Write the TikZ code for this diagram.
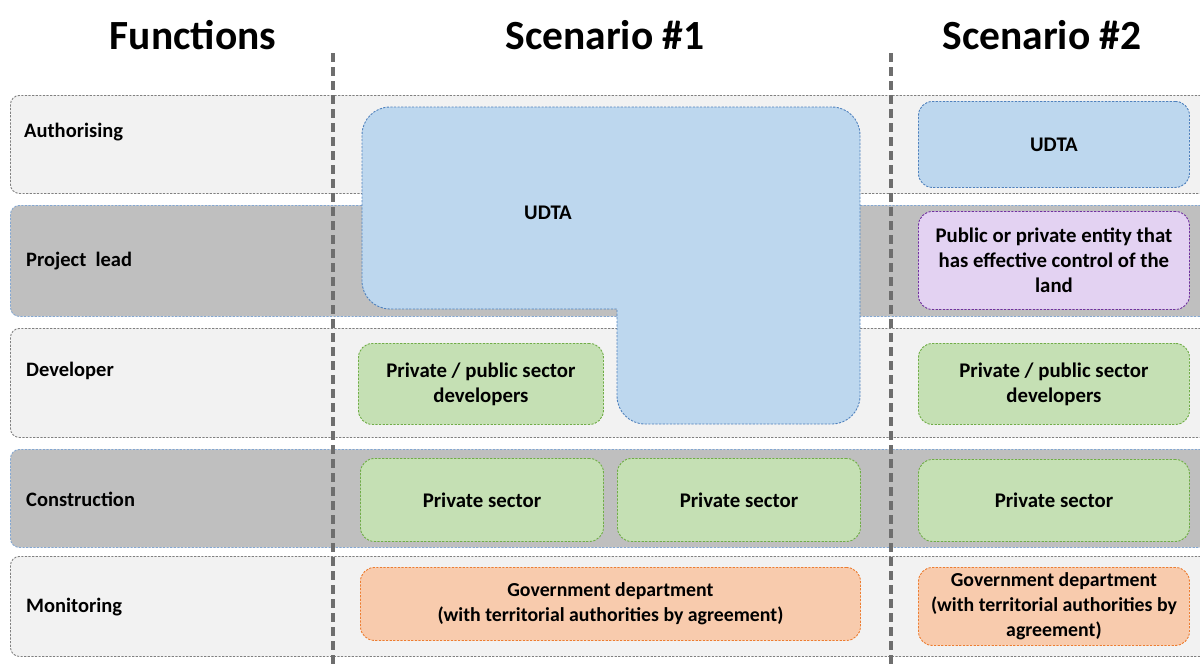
\documentclass[tikz,border=0pt]{standalone}
\usepackage{fontspec}
\setmainfont{Carlito}
\usepackage{tikz}
\usetikzlibrary{positioning}

\definecolor{bandlight}{HTML}{F2F2F2}
\definecolor{banddark}{HTML}{BFBFBF}
\definecolor{bandline}{HTML}{808080}
\definecolor{udtafill}{HTML}{BDD7EE}
\definecolor{udtaline}{HTML}{4F81BD}
\definecolor{devfill}{HTML}{C5E0B4}
\definecolor{devline}{HTML}{70AD47}
\definecolor{govfill}{HTML}{F8CBAD}
\definecolor{govline}{HTML}{ED7D31}
\definecolor{landfill}{HTML}{E3D2F2}
\definecolor{landline}{HTML}{7030A0}
\definecolor{splitline}{HTML}{6E6E6E}

\tikzset{
  fine dash/.style={dash pattern=on 2.2pt off 1.4pt, line width=0.9pt},
  band/.style={draw, fine dash, rounded corners=9pt, anchor=north west,
    minimum width=1210pt, minimum height=#1, inner sep=0pt},
  lightband/.style={band=#1, fill=bandlight, draw=bandline},
  darkband/.style={band=#1, fill=banddark, draw=udtaline!70},
  rowlabel/.style={anchor=west, font=\bfseries\fontsize{20.5}{24}\selectfont, inner sep=0pt},
  title/.style={font=\bfseries\fontsize{41.5}{49}\selectfont, inner sep=0pt},
  box/.style={draw, fine dash, rounded corners=14pt, anchor=north west, align=center,
    inner sep=0pt, font=\bfseries\fontsize{20.8}{25}\selectfont},
  udtabox/.style={box, fill=udtafill, draw=udtaline},
  devbox/.style={box, fill=devfill, draw=devline},
  govbox/.style={box, fill=govfill, draw=govline, font=\bfseries\fontsize{19.8}{25}\selectfont},
  landbox/.style={box, fill=landfill, draw=landline},
  split/.style={draw=splitline, line width=3.2pt, dash pattern=on 9pt off 5pt}
}

\begin{document}
\begin{tikzpicture}[x=1pt, y=-1pt]
  \useasboundingbox (0,0) rectangle (1200,664);

  % titles
  \node[title] (functions) at (193,35) {Functions};
  \node[title] (scenone)   at (605,35) {Scenario \#1};
  \node[title] (scentwo)   at (1042,35) {Scenario \#2};

  % function rows
  \node[lightband=98pt]  (authrow)  at (10,95)  {};
  \node[darkband=111pt]  (leadrow)  at (10,205) {};
  \node[lightband=109pt] (devrow)   at (10,328) {};
  \node[darkband=98pt]   (consrow)  at (10,449) {};
  \node[lightband=100pt] (monirow)  at (10,556) {};

  \node[rowlabel] (authlabel) at (24,132) {Authorising};
  \node[rowlabel] (leadlabel) at (26,261) {Project\ \ lead};
  \node[rowlabel] (devlabel)  at (26,371) {Developer};
  \node[rowlabel] (conslabel) at (26,499) {Construction};
  \node[rowlabel] (monilabel) at (26,607) {Monitoring};

  % column separators
  \coordinate (splitonetop) at (333,53);
  \coordinate (splitonebot) at (333,664);
  \coordinate (splittwotop) at (891,53);
  \coordinate (splittwobot) at (891,664);
  \draw[split] (splitonetop) -- (splitonebot);
  \draw[split] (splittwotop) -- (splittwobot);

  % scenario 1
  \draw[fine dash, fill=udtafill, draw=udtaline, rounded corners=28pt]
    (600,107) -- (860,107) -- (860,424) -- (617,424)
    [sharp corners] -- (617,309) [rounded corners=28pt] -- (362,309) -- (362,107) -- cycle;
  \node[font=\bfseries\fontsize{20.8}{25}\selectfont] (udtaone) at (548,213) {UDTA};

  \node[devbox, minimum width=245pt, minimum height=81pt] (devone) at (358,343)
    {Private / public sector\\developers};
  \node[devbox, minimum width=243pt, minimum height=83pt] (consone) at (360,458)
    {Private sector};
  \node[devbox, minimum width=243pt, minimum height=83pt] (constwo) at (617,458)
    {Private sector};
  \node[govbox, minimum width=500pt, minimum height=73pt] (govone) at (360,567)
    {Government department\\(with territorial authorities by agreement)};

  % scenario 2
  \node[udtabox, minimum width=271pt, minimum height=86pt] (udtatwo) at (918,101)
    {UDTA};
  \node[landbox, minimum width=271pt, minimum height=98pt] (landtwo) at (918,211)
    {Public or private entity that\\has effective control of the\\land};
  \node[devbox, minimum width=271pt, minimum height=81pt] (devtwo) at (918,343)
    {Private / public sector\\developers};
  \node[devbox, minimum width=271pt, minimum height=82pt] (consthree) at (918,459)
    {Private sector};
  \node[govbox, minimum width=271pt, minimum height=78pt] (govtwo) at (918,567)
    {Government department\\(with territorial authorities by\\agreement)};
\end{tikzpicture}
\end{document}
